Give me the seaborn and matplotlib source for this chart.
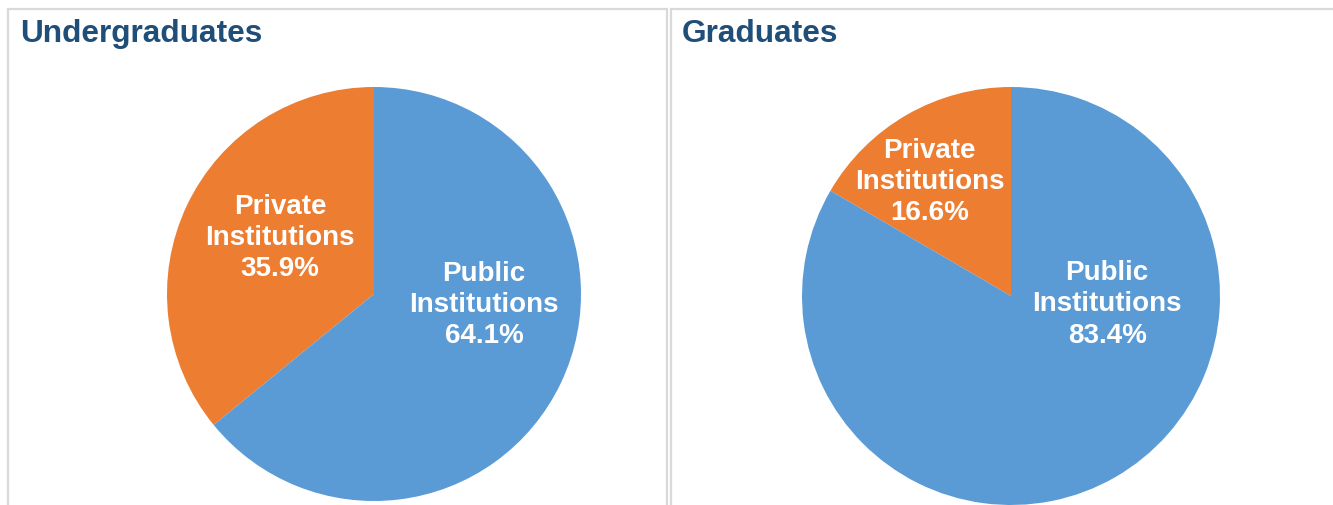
import matplotlib
matplotlib.use("Agg")
import matplotlib.pyplot as plt
import seaborn as sns
from matplotlib.patches import Rectangle

sns.set_theme(style="white")
plt.rcParams['font.family'] = ['Liberation Sans', 'DejaVu Sans']

# Data
categories = ["Private\nInstitutions", "Public\nInstitutions"]
undergrad_values = [35.9, 64.1]
graduate_values = [16.6, 83.4]
panel_titles = ["Undergraduates", "Graduates"]
colors = ["#ED7D31", "#5B9BD5"]

W, H = 1333, 506
fig = plt.figure(figsize=(W / 100, H / 100), dpi=100)
fig.patch.set_facecolor("white")

def px_axes(cx, cy, r):
    return fig.add_axes([(cx - r) / W, (H - cy - r) / H, 2 * r / W, 2 * r / H])

# panel borders
border = "#d9d9d9"
for x0, x1 in [(8, 667), (671, 1420)]:
    fig.add_artist(Rectangle((x0 / W, -0.1), (x1 - x0) / W, (H - 10) / H + 0.1,
                             transform=fig.transFigure, fill=False,
                             edgecolor=border, linewidth=1.6))

title_color = "#1F4E79"
fig.text(20 / W, 1 - 34 / H, panel_titles[0], fontsize=22.8, fontweight="bold",
         color=title_color, va="center", ha="left")
fig.text(682 / W, 1 - 34 / H, panel_titles[1], fontsize=22.8, fontweight="bold",
         color=title_color, va="center", ha="left")

panels = [
    (374, 295, 207, undergrad_values, [(-0.454, 0.275), (0.531, -0.048)]),
    (1011, 297, 209, graduate_values, [(-0.39, 0.55), (0.46, -0.035)]),
]
for cx, cy, r, vals, label_pos in panels:
    ax = px_axes(cx, cy, r)
    ax.pie(vals, colors=colors, startangle=90, counterclock=True, radius=1,
           wedgeprops=dict(linewidth=0))
    ax.set_xlim(-1, 1)
    ax.set_ylim(-1, 1)
    ax.set_aspect("equal")
    ax.axis("off")
    for cat, v, (lx, ly) in zip(categories, vals, label_pos):
        ax.text(lx, ly, f"{cat}\n{v:.1f}%", ha="center", va="center",
                color="white", fontsize=20, fontweight="bold", linespacing=1.27)

fig.savefig("out.png", dpi=100, facecolor="white")
